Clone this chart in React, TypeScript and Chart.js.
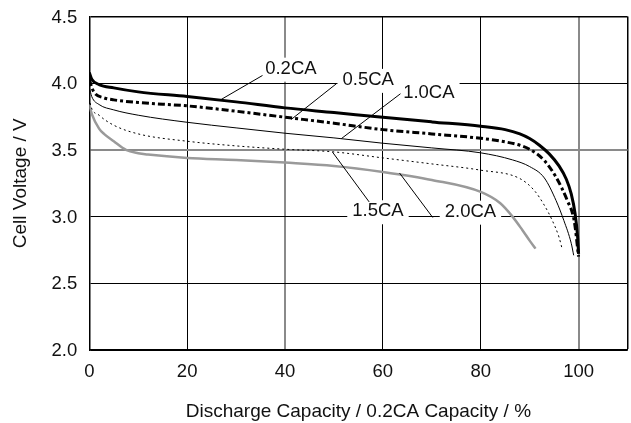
import React, { useEffect, useRef } from "react";
import { Chart, registerables } from "chart.js";

Chart.register(...registerables);

// ---- data (discharge capacity %, cell voltage V) ----
const cap02 = [0, 0.5, 2, 5, 10, 20, 30, 40, 50, 60, 70, 80, 85, 88, 90, 92, 94, 96, 97.5, 98.5, 99.3, 99.8, 100];
const volt02 = [4.08, 4.03, 3.99, 3.965, 3.935, 3.9, 3.86, 3.815, 3.78, 3.744, 3.71, 3.677, 3.652, 3.62, 3.585, 3.535, 3.47, 3.38, 3.28, 3.17, 3.02, 2.85, 2.72];

const cap05 = [0, 0.5, 1, 3, 5, 10, 20, 30, 40, 50, 60, 70, 80, 85, 88, 90, 93, 95.4, 97.7, 99.1, 100];
const volt05 = [4.03, 3.97, 3.93, 3.89, 3.875, 3.855, 3.83, 3.79, 3.745, 3.7, 3.652, 3.62, 3.587, 3.56, 3.535, 3.505, 3.42, 3.295, 3.12, 2.97, 2.7];

const cap10 = [0, 0.5, 2, 5, 10, 20, 30, 40, 50, 60, 70, 80, 86.5, 90, 93, 95.4, 97, 98.5, 99];
const volt10 = [3.97, 3.9, 3.84, 3.8, 3.76, 3.707, 3.665, 3.625, 3.59, 3.55, 3.515, 3.478, 3.425, 3.375, 3.29, 3.12, 2.97, 2.8, 2.71];

const cap15 = [0, 0.3, 2, 5, 10, 20, 30, 40, 50, 60, 70, 80, 87.9, 90.9, 93, 94.6, 96, 96.7];
const volt15 = [3.89, 3.83, 3.76, 3.685, 3.62, 3.565, 3.53, 3.505, 3.485, 3.44, 3.395, 3.348, 3.287, 3.198, 3.085, 2.973, 2.846, 2.75];

const cap20 = [0, 0.5, 2, 3, 5, 7.5, 10, 12, 20, 30, 40, 50, 60, 70, 80, 84, 86.5, 88.5, 90, 91.2];
const volt20 = [3.84, 3.77, 3.66, 3.62, 3.565, 3.5, 3.475, 3.465, 3.44, 3.425, 3.405, 3.38, 3.335, 3.275, 3.185, 3.1, 3.0, 2.9, 2.82, 2.76];

const seriesNames = ["0.2CA", "0.5CA", "1.0CA", "1.5CA", "2.0CA"];

const xTicks = [0, 20, 40, 60, 80, 100];
const yTicks = [2.0, 2.5, 3.0, 3.5, 4.0, 4.5];

// label anchor points in data units: text centre, leader start, leader end
const labelTextX = [41.2, 57.0, 69.4, 59.0, 77.9];
const labelTextY = [4.109, 4.025, 3.927, 3.04, 3.037];
const leaderStartX = [35.4, 50.5, 63.6, 57.2, 70.2];
const leaderStartY = [4.058, 3.996, 3.921, 3.11, 2.993];
const leaderEndX = [27.0, 41.3, 51.5, 49.7, 63.4];
const leaderEndY = [3.879, 3.729, 3.584, 3.484, 3.327];

const FONT = "'Liberation Sans', Arial, Helvetica, sans-serif";

const toPoints = (xs: number[], ys: number[]) => xs.map((x, i) => ({ x, y: ys[i] }));

const labelPlugin = {
  id: "curveLabels",
  beforeDatasetsDraw(chart: any) {
    const { ctx, scales } = chart;
    const xs = scales.x;
    const ys = scales.y;
    ctx.save();
    ctx.font = `18.5px ${FONT}`;
    seriesNames.forEach((name, i) => {
      const cx = xs.getPixelForValue(labelTextX[i]);
      const cy = ys.getPixelForValue(labelTextY[i]);
      const w = ctx.measureText(name).width;
      ctx.fillStyle = "#ffffff";
      ctx.fillRect(cx - w / 2 - 5, cy - 11, w + 10, 24);
    });
    ctx.restore();
  },
  afterDatasetsDraw(chart: any) {
    const { ctx, scales } = chart;
    const xs = scales.x;
    const ys = scales.y;
    ctx.save();
    ctx.strokeStyle = "#000";
    ctx.lineWidth = 1;
    seriesNames.forEach((name, i) => {
      ctx.beginPath();
      ctx.moveTo(xs.getPixelForValue(leaderStartX[i]), ys.getPixelForValue(leaderStartY[i]));
      ctx.lineTo(xs.getPixelForValue(leaderEndX[i]), ys.getPixelForValue(leaderEndY[i]));
      ctx.stroke();
    });
    ctx.font = `18.5px ${FONT}`;
    ctx.fillStyle = "#111";
    ctx.textAlign = "center";
    ctx.textBaseline = "middle";
    seriesNames.forEach((name, i) => {
      ctx.fillText(name, xs.getPixelForValue(labelTextX[i]), ys.getPixelForValue(labelTextY[i]));
    });
    ctx.restore();
  },
};

export default function App() {
  const canvasRef = useRef<HTMLCanvasElement | null>(null);

  useEffect(() => {
    document.body.style.margin = "0";
    const canvas = canvasRef.current;
    if (!canvas) return;

    const common = { pointRadius: 0, fill: false, cubicInterpolationMode: "monotone" as const, borderCapStyle: "butt" as const };

    const chart = new Chart(canvas, {
      type: "line",
      data: {
        datasets: [
          { label: seriesNames[0], data: toPoints(cap02, volt02), borderColor: "#000", borderWidth: 3, ...common },
          { label: seriesNames[1], data: toPoints(cap05, volt05), borderColor: "#000", borderWidth: 3, borderDash: [7, 3, 3, 3], ...common },
          { label: seriesNames[2], data: toPoints(cap10, volt10), borderColor: "#000", borderWidth: 1, ...common },
          { label: seriesNames[3], data: toPoints(cap15, volt15), borderColor: "#000", borderWidth: 1, borderDash: [2, 3], ...common },
          { label: seriesNames[4], data: toPoints(cap20, volt20), borderColor: "#9a9a9a", borderWidth: 2.5, ...common },
        ],
      },
      options: {
        animation: false,
        responsive: false,
        maintainAspectRatio: false,
        layout: { padding: { top: 16.5, right: 3.5, bottom: 0, left: 0 } },
        plugins: { legend: { display: false }, tooltip: { enabled: false } },
        scales: {
          x: {
            type: "linear",
            min: 0,
            max: 110,
            afterBuildTicks: (scale: any) => {
              scale.ticks = [...xTicks, 110].map((v) => ({ value: v }));
            },
            afterFit: (scale: any) => {
              scale.height = 73;
              scale.paddingLeft = 0;
              scale.paddingRight = 0;
            },
            ticks: {
              padding: 11,
              color: "#111",
              font: { family: FONT, size: 18.5 },
              maxRotation: 0,
              callback: (v: any) => (Number(v) <= 100 ? String(v) : ""),
            },
            grid: {
              drawTicks: false,
              color: (c: any) => (c.tick && (c.tick.value === 40 || c.tick.value === 100) ? "#8a8a8a" : "#000"),
              lineWidth: (c: any) => (c.tick && (c.tick.value === 40 || c.tick.value === 100) ? 2 : c.tick && c.tick.value === 110 ? 1.5 : 1),
            },
            border: { display: true, color: "#000", width: 1.5 },
            title: {
              display: true,
              text: "Discharge Capacity / 0.2CA Capacity / %",
              color: "#111",
              font: { family: FONT, size: 19 },
              padding: { top: 19, bottom: 0 },
            },
          },
          y: {
            type: "linear",
            min: 2,
            max: 4.5,
            afterBuildTicks: (scale: any) => {
              scale.ticks = yTicks.map((v) => ({ value: v }));
            },
            afterFit: (scale: any) => {
              scale.width = 89.3;
              scale.paddingTop = 0;
              scale.paddingBottom = 0;
            },
            ticks: {
              padding: 12,
              labelOffset: 1,
              color: "#111",
              font: { family: FONT, size: 18.5 },
              callback: (v: any) => Number(v).toFixed(1),
            },
            grid: {
              drawTicks: false,
              color: (c: any) => (c.tick && c.tick.value === 3.5 ? "#8a8a8a" : "#000"),
              lineWidth: (c: any) => (c.tick && c.tick.value === 3.5 ? 2 : c.tick && c.tick.value === 4.5 ? 1.5 : 1),
            },
            border: { display: true, color: "#000", width: 1.5 },
            title: {
              display: true,
              text: "Cell Voltage / V",
              color: "#111",
              font: { family: FONT, size: 19 },
              padding: { top: 9, bottom: 20 },
            },
          },
        },
      },
      plugins: [labelPlugin],
    });

    return () => chart.destroy();
  }, []);

  return <canvas ref={canvasRef} width={631} height={423} style={{ display: "block" }} />;
}
